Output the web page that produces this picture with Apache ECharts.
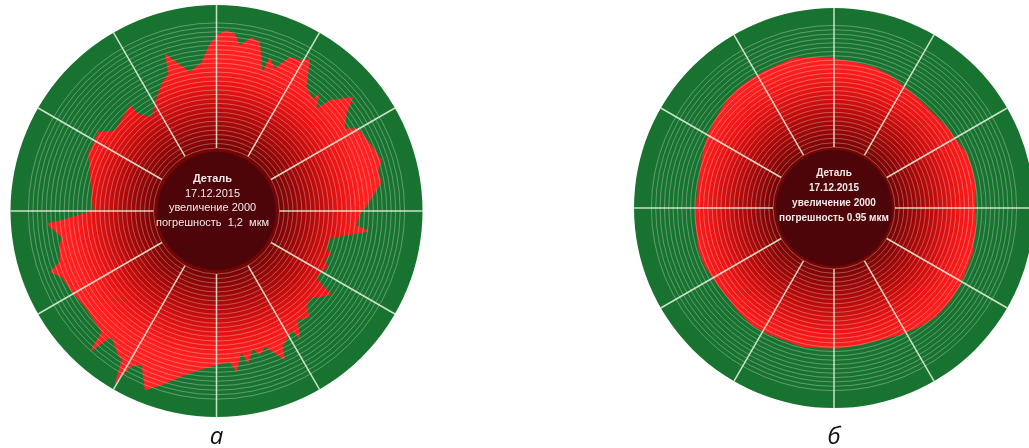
<!DOCTYPE html>
<html>
<head>
<meta charset="utf-8">
<script src="https://cdn.jsdelivr.net/npm/echarts@6/dist/echarts.min.js"></script>
<style>
  html, body { margin: 0; background: #fff; }
  #chart { width: 1029px; height: 448px; }
</style>
</head>
<body>
<div id="chart"></div>
<script>
// profile "а": angle (deg, ccw from 3 o'clock) -> radius
const anglesA = [
  0, 1.5, 6.3, 10, 14.1, 17.1, 22.2, 26.5, 30.2, 32.7, 36.8, 39.8, 44.3, 45.7, 48.7, 49.3,
  54, 58.5, 61, 64.5, 67.7, 70.9, 71.7, 75.6, 78.6, 82, 84.1, 86.8, 89.4, 92.2, 95.7, 100.8,
  104.5, 108.1, 109.3, 113.3, 117.7, 124.6, 128.8, 129.3, 141.5, 146.2, 151.3, 155.9, 163.5,
  175.1, 178.9, 180.4, 183.4, 184.2, 189.5, 192.4, 198, 200.1, 203.1, 210, 216.1, 222.4,
  226.5, 228.1, 230.2, 235.7, 237.5, 239.5, 241, 244.1, 248.2, 252.5, 259.1, 265.8, 270,
  275, 277.1, 280, 281.7, 284.9, 286.7, 289.6, 291.9, 294.6, 296, 302.2, 303.1, 306.7,
  311.4, 312.7, 316.8, 323.8, 326, 328.8, 333.4, 335.5, 339.7, 341.1, 346.3, 352.5, 354.2, 360
];
const radiiA = [
  145, 150, 159, 167.5, 166.7, 172.6, 169, 165.7, 164, 152.5, 162.4, 178, 158.4, 143, 156, 148,
  153, 178.7, 172, 170.6, 153.9, 163, 146.4, 174.5, 177, 167.3, 178.3, 181, 177, 167.5, 149.7, 141.5,
  152.3, 165.6, 145.6, 138.7, 128.7, 114.2, 124.9, 136.6, 129.7, 142.2, 140.4, 140.5, 131.9,
  125.3, 123.4, 128.4, 155.3, 170.5, 157.2, 160.4, 164.8, 177.5, 168.5, 165.5, 163, 164.7,
  166.9, 189.6, 164, 174.7, 176, 201, 178, 171.6, 193, 182.8, 167.3, 158, 154,
  151.6, 162.2, 143.2, 155.9, 142.4, 150.7, 144.3, 152, 164.2, 151, 141, 152.4, 136.4,
  141, 132.8, 128, 142.6, 120.7, 120.8, 124.9, 119, 122.6, 116.2, 116.6, 154.6, 140.7, 145
];

// profile "б"
const anglesB = [
  0, 8.5, 16.7, 22.4, 29, 35.8, 43.6, 51.5, 58.7, 67.2, 74.4, 82.5, 90.3, 97.8, 105.2, 113.2,
  120.2, 127.8, 134.8, 142.1, 149.3, 156.1, 164.2, 172.5, 180.8, 189, 197.2, 204.5, 211.8,
  219.6, 227.3, 234.9, 241.8, 249, 256.9, 264.3, 272.4, 280.7, 289.2, 297.5, 305.9, 313.4,
  321.9, 328.7, 335.2, 341.9, 349.8, 356.5, 360
];
const radiiB = [
  141, 143.6, 143.7, 143.5, 140.3, 139, 137.2, 138, 140, 144.3, 146.7, 147.6, 149.7, 152.7, 155.1, 153.8,
  153.8, 153.5, 152.3, 148.7, 146.2, 143, 139.3, 137.8, 138.7, 139.7, 142, 141.7, 140,
  139.2, 141.1, 143.1, 142.3, 141.4, 142.4, 141, 140.5, 139.4, 139.8, 143.1, 146.6, 149.5,
  149, 148, 146, 145.9, 143.3, 142.3, 141
];

const infoA = ['Деталь', '17.12.2015', 'увеличение 2000', 'погрешность  1,2  мкм'];
const infoB = ['Деталь', '17.12.2015', 'увеличение 2000', 'погрешность 0.95 мкм'];
const captions = ['а', 'б'];

const dials = [
  { cx: 216.5, cy: 211, r: 206, disk: 59, ringStart: 63, angles: anglesA, radii: radiiA, info: infoA,
    textSize: 11, textWeight: 'normal', lineH: 14.5, pad: [0, 8, 20, 0] },
  { cx: 834, cy: 208, r: 200, disk: 58, ringStart: 61, angles: anglesB, radii: radiiB, info: infoB,
    textSize: 10, textWeight: 'bold', lineH: 15, pad: [0, 0, 25, 0] }
];

const RING_MAX = 32;
const RING_LAST = 28;
const ringColors = [];
for (let i = 0; i <= RING_MAX; i++) {
  ringColors.push(i <= RING_LAST ? 'rgba(255,255,255,0.3)' : 'rgba(0,0,0,0)');
}

const hidden = { axisLine: { show: false }, axisTick: { show: false }, axisLabel: { show: false } };

const polar = [];
const angleAxis = [];
const radiusAxis = [];
const series = [];
const title = [];

dials.forEach((d, i) => {
  const bg = i * 2;
  const fg = i * 2 + 1;
  polar.push({ center: [d.cx, d.cy], radius: [0, d.r] });
  polar.push({ center: [d.cx, d.cy], radius: [d.ringStart, d.r] });

  // background disk
  angleAxis.push({ polarIndex: bg, type: 'value', min: 0, max: 360, startAngle: 0, clockwise: false,
    splitLine: { show: false }, z: 0, ...hidden });
  radiusAxis.push({ polarIndex: bg, type: 'value', min: 0, max: d.r, z: 0,
    splitLine: { show: false },
    splitArea: { show: true, areaStyle: { color: ['#197330'] } }, ...hidden });

  // rings and spokes on top
  angleAxis.push({ polarIndex: fg, type: 'value', min: 0, max: 360, interval: 30, startAngle: 0,
    clockwise: false, z: 3,
    splitLine: { show: true, lineStyle: { color: 'rgba(235,245,225,0.85)', width: 1.5 } }, ...hidden });
  radiusAxis.push({ polarIndex: fg, type: 'value', min: 0, max: RING_MAX, interval: 1, z: 3,
    splitLine: { show: true, lineStyle: { color: ringColors, width: 1 } }, ...hidden });

  series.push({
    type: 'line',
    coordinateSystem: 'polar',
    polarIndex: bg,
    data: d.angles.map((a, k) => [d.radii[k], a]),
    showSymbol: false,
    silent: true,
    z: 2,
    lineStyle: { opacity: 0 },
    areaStyle: {
      opacity: 1,
      color: {
        type: 'radial', x: d.cx, y: d.cy, r: d.r, global: true,
        colorStops: [
          { offset: 0, color: '#3a0000' },
          { offset: 0.3, color: '#760404' },
          { offset: 0.48, color: '#b80a0a' },
          { offset: 0.62, color: '#ec1515' },
          { offset: 0.72, color: '#ff1f1f' },
          { offset: 1, color: '#ff2626' }
        ]
      }
    }
  });

  series.push({
    type: 'pie',
    center: [d.cx, d.cy],
    radius: [0, d.disk],
    silent: true,
    z: 4,
    itemStyle: { color: '#4d0509', borderWidth: 0 },
    emphasis: { disabled: true },
    label: {
      show: true,
      position: 'center',
      padding: d.pad,
      formatter: '{h|' + d.info[0] + '}\n' + d.info.slice(1).map(t => '{n|' + t + '}').join('\n'),
      rich: {
        h: { color: '#f4eaea', fontSize: d.textSize, fontWeight: 'bold', lineHeight: d.lineH,
          fontFamily: 'Liberation Sans, Arial, sans-serif' },
        n: { color: '#f4eaea', fontSize: d.textSize, fontWeight: d.textWeight, lineHeight: d.lineH,
          fontFamily: 'Liberation Sans, Arial, sans-serif' }
      }
    },
    labelLine: { show: false },
    data: [{ value: 1, name: d.info[0] }]
  });

  title.push({
    text: captions[i],
    left: d.cx,
    top: 425,
    padding: 0,
    textAlign: 'center',
    textStyle: { fontFamily: 'Open Sans', fontStyle: 'italic', fontWeight: 'normal', fontSize: 24, color: '#111' }
  });
});

const chart = echarts.init(document.getElementById('chart'));
chart.setOption({
  animation: false,
  backgroundColor: '#fff',
  title,
  polar,
  angleAxis,
  radiusAxis,
  series
});

window.addEventListener('resize', () => chart.resize());
</script>
</body>
</html>
